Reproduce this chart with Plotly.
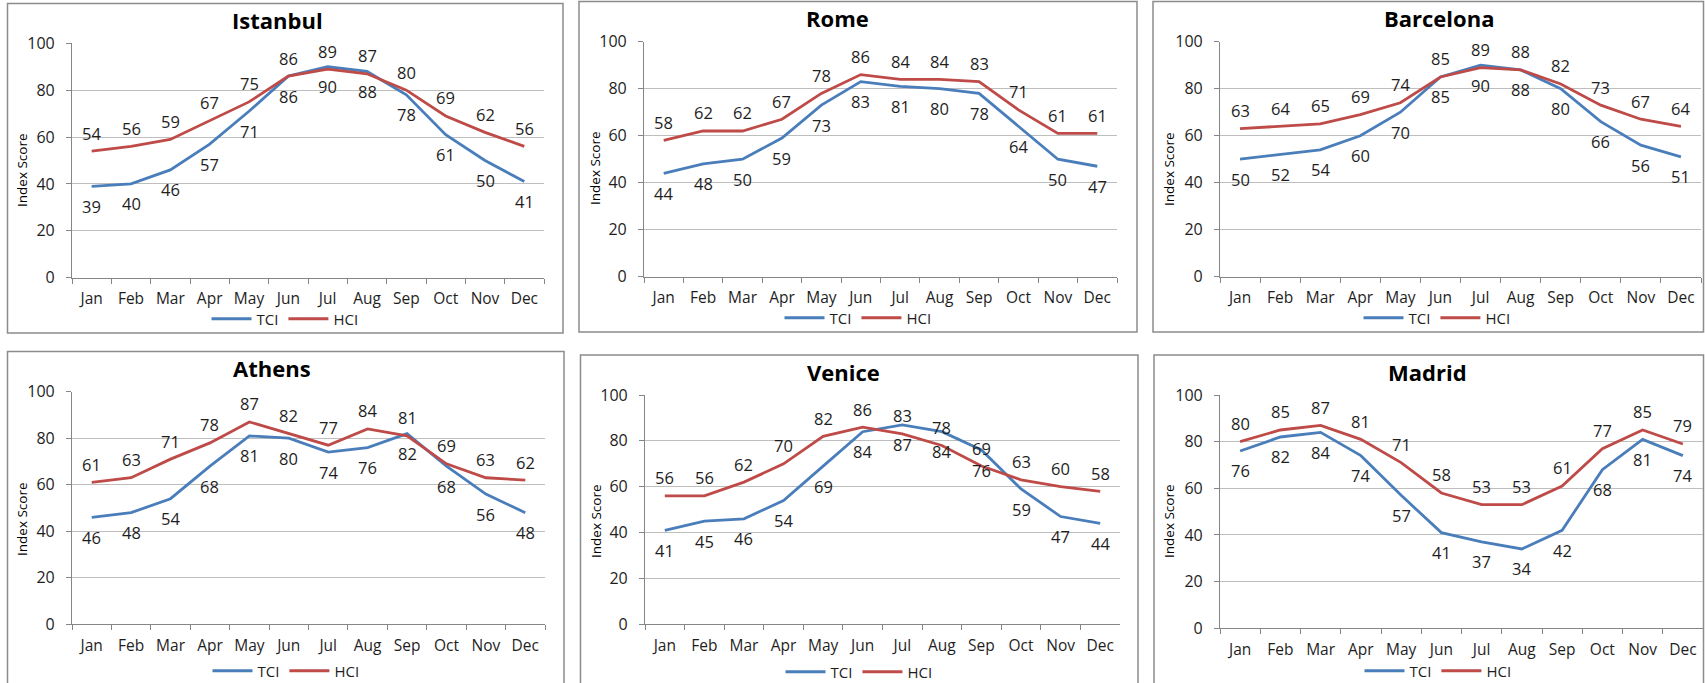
import plotly.graph_objects as go

W, H = 1705, 683

months = ["Jan", "Feb", "Mar", "Apr", "May", "Jun", "Jul", "Aug", "Sep", "Oct", "Nov", "Dec"]
cities = ["Istanbul", "Rome", "Barcelona", "Athens", "Venice", "Madrid"]

istanbul_tci = [39, 40, 46, 57, 71, 86, 90, 88, 78, 61, 50, 41]
istanbul_hci = [54, 56, 59, 67, 75, 86, 89, 87, 80, 69, 62, 56]
rome_tci = [44, 48, 50, 59, 73, 83, 81, 80, 78, 64, 50, 47]
rome_hci = [58, 62, 62, 67, 78, 86, 84, 84, 83, 71, 61, 61]
barcelona_tci = [50, 52, 54, 60, 70, 85, 90, 88, 80, 66, 56, 51]
barcelona_hci = [63, 64, 65, 69, 74, 85, 89, 88, 82, 73, 67, 64]
athens_tci = [46, 48, 54, 68, 81, 80, 74, 76, 82, 68, 56, 48]
athens_hci = [61, 63, 71, 78, 87, 82, 77, 84, 81, 69, 63, 62]
venice_tci = [41, 45, 46, 54, 69, 84, 87, 84, 76, 59, 47, 44]
venice_hci = [56, 56, 62, 70, 82, 86, 83, 78, 69, 63, 60, 58]
madrid_tci = [76, 82, 84, 74, 57, 41, 37, 34, 42, 68, 81, 74]
madrid_hci = [80, 85, 87, 81, 71, 58, 53, 53, 61, 77, 85, 79]

tci_series = [istanbul_tci, rome_tci, barcelona_tci, athens_tci, venice_tci, madrid_tci]
hci_series = [istanbul_hci, rome_hci, barcelona_hci, athens_hci, venice_hci, madrid_hci]

# pixel layout: plot area (x0, x1, ytop, ybottom), border box, title pos, legend pos, ytitle pos
plot_px = [
    (72, 544, 43.3, 277.7),
    (644, 1117, 41.7, 276.7),
    (1220, 1701, 41.7, 276.7),
    (72, 545, 391.7, 624.3),
    (645, 1120, 395, 624.3),
    (1220, 1703, 395, 628.3),
]
border_px = [
    (7.5, 3.5, 563, 333),
    (579, 1.5, 1137, 332),
    (1153, 1.5, 1703.5, 332),
    (7.5, 351.5, 564, 690),
    (580.5, 355, 1138, 690),
    (1154, 355, 1703.5, 690),
]
title_px = [(277, 20), (837, 18), (1439, 18), (272, 368), (843, 372), (1427, 372)]
legend_px = [(285, 319), (858, 318), (1437, 318), (286, 671), (859, 672), (1438, 671)]
ytitle_px = [(22, 170), (595, 168), (1169, 169), (22, 519), (596, 521), (1169, 521)]

TCI_COLOR = "#4A7EBB"
HCI_COLOR = "#BE4B48"
FONT = "Open Sans"
TXT = "#1e1e1e"
AXIS = "#868686"
GRID = "#BEBEBE"

fig = go.Figure()
layout = dict(
    width=W, height=H, margin=dict(l=0, r=0, t=0, b=0, pad=0, autoexpand=False),
    paper_bgcolor="white", plot_bgcolor="white",
    font=dict(family=FONT, size=14, color=TXT),
)
annotations = []
shapes = []

for i, city in enumerate(cities):
    n = i + 1
    sfx = "" if n == 1 else str(n)
    xr, yr = "x" + sfx, "y" + sfx
    lg = "legend" + sfx
    x0, x1, yt, yb = plot_px[i]
    layout["xaxis" + sfx] = dict(
        domain=[x0 / W, x1 / W], anchor=yr, type="category",
        categoryorder="array", categoryarray=months, range=[-0.5, 11.5],
        showline=True, linecolor=AXIS, linewidth=1.2, ticks="outside", tickson="boundaries",
        ticklen=5, tickcolor=AXIS, showgrid=False, zeroline=False, automargin=False,
        tickangle=0,
        tickfont=dict(family=FONT, size=15.5, color=TXT), ticklabelstandoff=7, fixedrange=True,
    )
    layout["yaxis" + sfx] = dict(
        domain=[1 - yb / H, 1 - yt / H], anchor=xr, range=[0, 100], dtick=20,
        showline=True, linecolor=AXIS, linewidth=1.2, ticks="outside", ticklen=5, tickcolor=AXIS,
        showgrid=True, gridcolor=GRID, gridwidth=1, zeroline=False, automargin=False,
        tickfont=dict(family=FONT, size=16, color=TXT), ticklabelstandoff=8, fixedrange=True,
    )
    lx, ly = legend_px[i]
    layout[lg] = dict(
        x=lx / W, y=1 - ly / H, xanchor="center", yanchor="middle", orientation="h",
        bgcolor="rgba(0,0,0,0)", font=dict(family=FONT, size=15, color=TXT),
        itemwidth=40, tracegroupgap=0,
    )
    fig.add_trace(go.Scatter(x=months, y=tci_series[i], mode="lines", name="TCI",
                             line=dict(color=TCI_COLOR, width=2.8), xaxis=xr, yaxis=yr,
                             legend=lg, showlegend=True))
    fig.add_trace(go.Scatter(x=months, y=hci_series[i], mode="lines", name="HCI",
                             line=dict(color=HCI_COLOR, width=2.8), xaxis=xr, yaxis=yr,
                             legend=lg, showlegend=True))
    for m, v in zip(months, tci_series[i]):
        annotations.append(dict(x=m, y=v, xref=xr, yref=yr, text=str(v), showarrow=False,
                                yshift=-20, font=dict(family=FONT, size=16.5, color=TXT)))
    for m, v in zip(months, hci_series[i]):
        annotations.append(dict(x=m, y=v, xref=xr, yref=yr, text=str(v), showarrow=False,
                                yshift=18, font=dict(family=FONT, size=16.5, color=TXT)))
    tx, ty = title_px[i]
    annotations.append(dict(x=tx / W, y=1 - ty / H, xref="paper", yref="paper", text="<b>" + city + "</b>",
                            showarrow=False, xanchor="center", yanchor="middle",
                            font=dict(family=FONT, size=22, color="#000000")))
    ax_, ay_ = ytitle_px[i]
    annotations.append(dict(x=ax_ / W, y=1 - ay_ / H, xref="paper", yref="paper", text="Index Score",
                            showarrow=False, xanchor="center", yanchor="middle", textangle=-90,
                            font=dict(family=FONT, size=13.5, color="#000000")))
    bx0, by0, bx1, by1 = border_px[i]
    shapes.append(dict(type="rect", xref="paper", yref="paper", x0=bx0 / W, x1=bx1 / W,
                       y0=1 - by1 / H, y1=1 - by0 / H, line=dict(color="#8C8C8C", width=1.5),
                       fillcolor="rgba(0,0,0,0)", layer="below"))

layout["annotations"] = annotations
layout["shapes"] = shapes
fig.update_layout(**layout)
fig.write_html(
    "out.html",
    config={"displayModeBar": False},
    post_script="document.body.style.margin='0px';document.body.style.overflow='hidden';",
)
